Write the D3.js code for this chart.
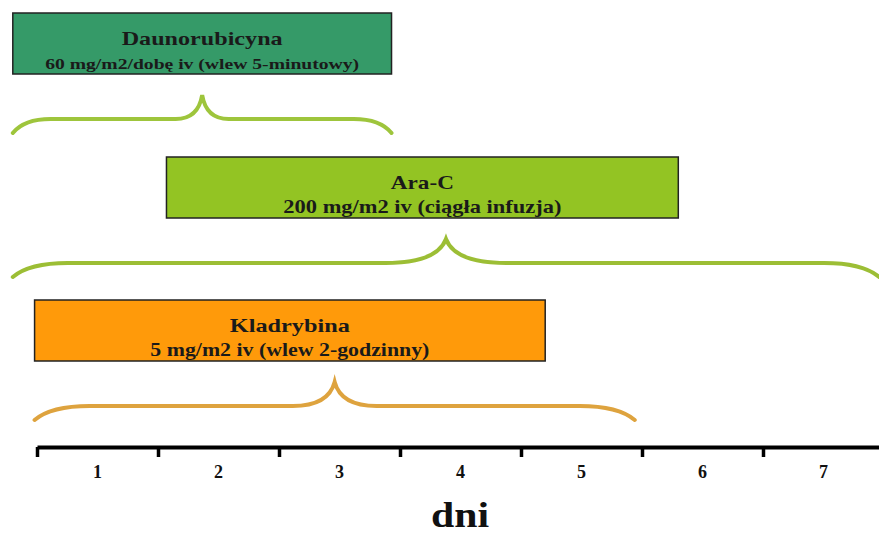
<!DOCTYPE html>
<html>
<head>
<meta charset="utf-8">
<script src="https://cdn.jsdelivr.net/npm/d3@7"></script>
<style>
  body { margin: 0; background: #fff; }
  svg { display: block; }
</style>
</head>
<body>
<div id="chart"></div>
<script>
// days shown on the axis
const days = [1, 2, 3, 4, 5, 6, 7];
// drugs, top to bottom
const drugNames = ["Daunorubicyna", "Ara-C", "Kladrybina"];
const drugDoses = ["60 mg/m2/dobę iv (wlew 5-minutowy)", "200 mg/m2 iv (ciągła infuzja)", "5 mg/m2 iv (wlew 2-godzinny)"];
// box spans in days (start, end) as drawn
const boxStart = [0.8, 2.07, 0.98];
const boxEnd = [3.93, 6.3, 5.2];
// brace spans in days (start, end)
const braceStart = [0.8, 0.8, 0.98];
const braceEnd = [3.93, 7.96, 5.94];
const axisTitle = "dni";

const width = 879, height = 536;
const fills = ["#359a68", "#93c423", "#ff9a0a"];
const braceColors = ["#9ec53c", "#9cbe35", "#dea33e"];
const rowTop = [13, 157, 300];
const boxH = 61;
const titleSize = [19, 19, 19];
const titleLen = [161, 63, 120];
const doseSize = [15, 19, 19];
const doseLen = [314, 278, 279];
const serif = "'Liberation Serif', 'Times New Roman', serif";

const svg = d3.select("#chart").append("svg")
  .attr("width", width)
  .attr("height", height);

let x = d3.scaleLinear().domain([1, 8]).range([37, 884]);

const rows = drugNames.map((n, i) => ({
  name: n, dose: drugDoses[i],
  b0: boxStart[i], b1: boxEnd[i],
  c0: braceStart[i], c1: braceEnd[i], i: i
}));

// boxes
svg.selectAll("rect.box")
  .data(rows)
  .enter().append("rect")
  .attr("class", "box")
  .attr("x", d => x(d.b0))
  .attr("y", d => rowTop[d.i])
  .attr("width", d => x(d.b1) - x(d.b0))
  .attr("height", boxH)
  .style("fill", d => fills[d.i])
  .style("stroke", "#222")
  .style("stroke-width", 1.5);

svg.selectAll("text.name")
  .data(rows)
  .enter().append("text")
  .attr("class", "name")
  .attr("x", d => (x(d.b0) + x(d.b1)) / 2)
  .attr("y", d => rowTop[d.i] + 32)
  .attr("text-anchor", "middle")
  .attr("textLength", d => titleLen[d.i])
  .attr("lengthAdjust", "spacingAndGlyphs")
  .style("font-family", serif)
  .style("font-weight", "bold")
  .style("font-size", d => titleSize[d.i] + "px")
  .style("fill", "#1a1a1a")
  .text(d => d.name);

svg.selectAll("text.dose")
  .data(rows)
  .enter().append("text")
  .attr("class", "dose")
  .attr("x", d => (x(d.b0) + x(d.b1)) / 2)
  .attr("y", d => rowTop[d.i] + 56)
  .attr("text-anchor", "middle")
  .attr("textLength", d => doseLen[d.i])
  .attr("lengthAdjust", "spacingAndGlyphs")
  .style("font-family", serif)
  .style("font-weight", "bold")
  .style("font-size", d => doseSize[d.i] + "px")
  .style("fill", "#1a1a1a")
  .text(d => d.dose);

// curly braces under each box
const bracePath = (x0, x1, yEnd, yLine, yPeak) => {
  const cx = (x0 + x1) / 2;
  const r = Math.min(55, (x1 - x0) * 0.1);
  const m = Math.min(62, (x1 - x0) * 0.07);
  return "M" + x0 + "," + yEnd
    + " Q" + (x0 + r * 0.3) + "," + yLine + " " + (x0 + r) + "," + yLine
    + " L" + (cx - m) + "," + yLine
    + " Q" + (cx - m * 0.15) + "," + yLine + " " + cx + "," + yPeak
    + " Q" + (cx + m * 0.15) + "," + yLine + " " + (cx + m) + "," + yLine
    + " L" + (x1 - r) + "," + yLine
    + " Q" + (x1 - r * 0.3) + "," + yLine + " " + x1 + "," + yEnd;
};

svg.selectAll("path.brace")
  .data(rows)
  .enter().append("path")
  .attr("class", "brace")
  .attr("d", d => {
    const t = rowTop[d.i] + boxH;
    return bracePath(x(d.c0), x(d.c1), t + 59, t + 45, t + 21);
  })
  .style("fill", "none")
  .style("stroke", d => braceColors[d.i])
  .style("stroke-width", 4)
  .style("stroke-linecap", "round");

// day axis
let xAxis = d3.axisBottom(x)
  .tickValues(days)
  .tickFormat("")
  .tickSize(10)
  .tickSizeOuter(0);

const axisG = svg.append("g")
  .attr("class", "x axis")
  .attr("transform", "translate(0,447)")
  .call(xAxis);

axisG.select(".domain").style("stroke", "#000").style("stroke-width", 4);
axisG.selectAll(".tick line").style("stroke", "#000").style("stroke-width", 3.5);

svg.selectAll("text.day")
  .data(days)
  .enter().append("text")
  .attr("class", "day")
  .attr("x", d => x(d + 0.5))
  .attr("y", 478)
  .attr("text-anchor", "middle")
  .style("font-family", serif)
  .style("font-weight", "bold")
  .style("font-size", "18px")
  .style("fill", "#111")
  .text(d => d);

svg.append("text")
  .attr("x", 460)
  .attr("y", 527)
  .attr("text-anchor", "middle")
  .attr("textLength", 58)
  .attr("lengthAdjust", "spacingAndGlyphs")
  .style("font-family", serif)
  .style("font-weight", "bold")
  .style("font-size", "35px")
  .style("fill", "#111")
  .text(axisTitle);
</script>
</body>
</html>
